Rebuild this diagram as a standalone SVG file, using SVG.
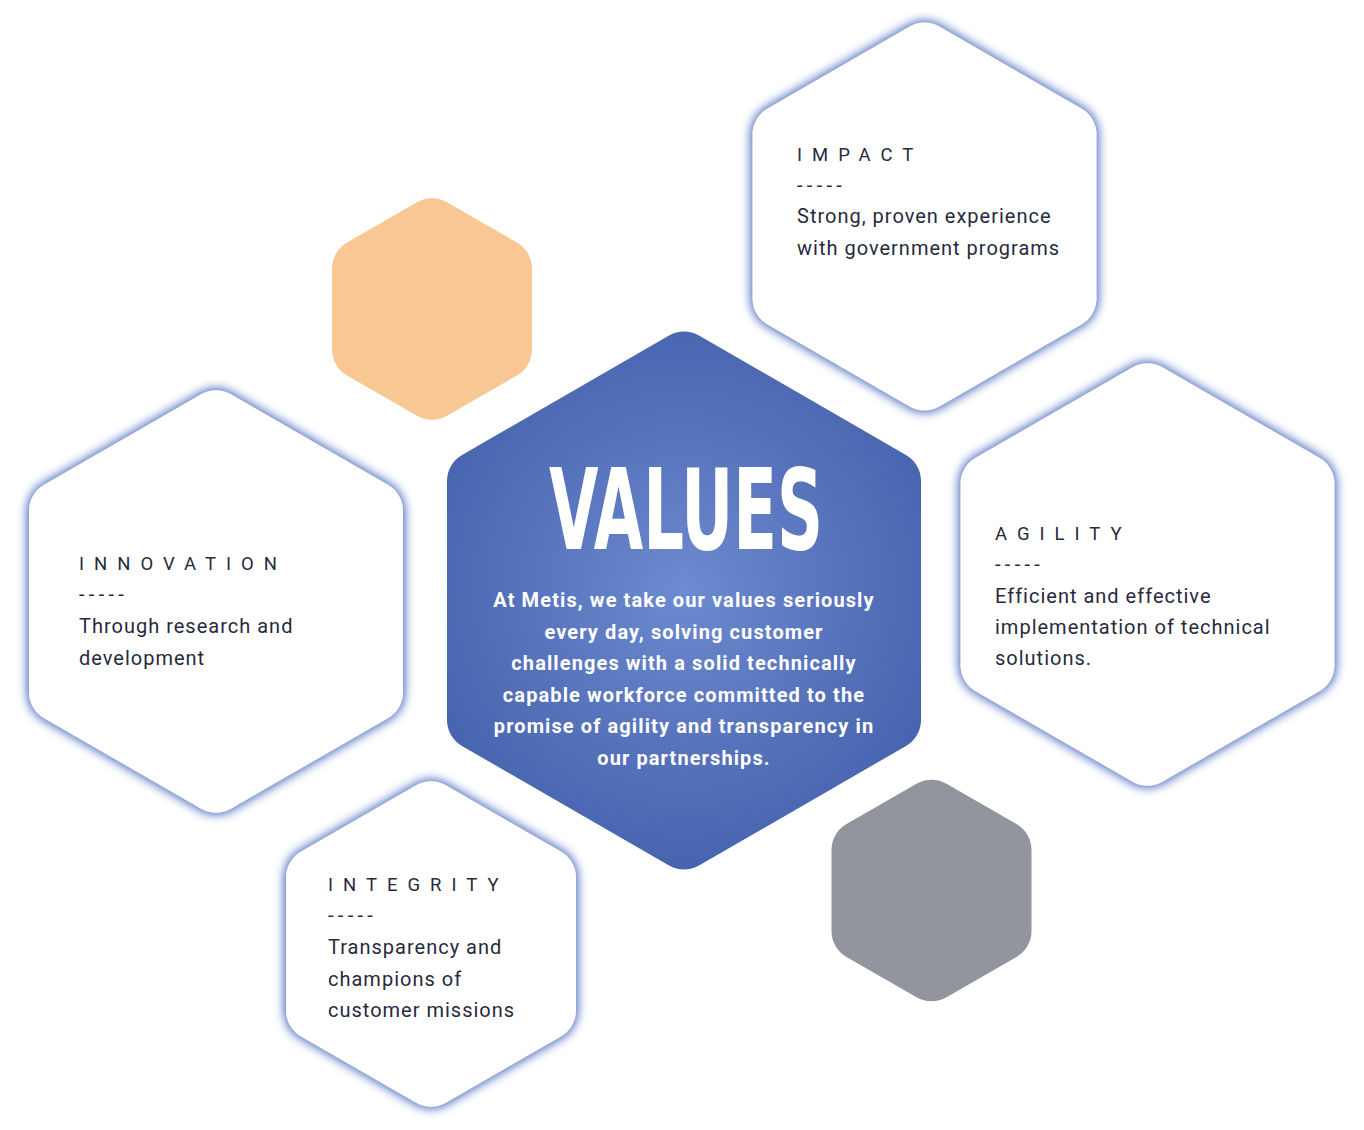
<svg xmlns="http://www.w3.org/2000/svg" width="1364" height="1130" viewBox="0 0 1364 1130">
<style>
.title{font-family:Roboto,"Liberation Sans",sans-serif;font-size:18.5px;fill:#272a3d;letter-spacing:10px}
.dash{font-family:Roboto,"Liberation Sans",sans-serif;font-size:20px;fill:#272a3d;letter-spacing:4.3px}
.body{font-family:Roboto,"Liberation Sans",sans-serif;font-size:20px;fill:#272a3d;letter-spacing:1px}
.ctext{font-family:Roboto,"Liberation Sans",sans-serif;font-size:20px;font-weight:700;fill:#ffffff;text-anchor:middle;letter-spacing:1.1px}
.big{font-family:"Liberation Sans Narrow","DejaVu Sans Condensed","Liberation Sans",sans-serif;font-size:112px;font-weight:700;fill:#ffffff}
.white{fill:#ffffff;filter:url(#glow)}
</style>
<defs>
<filter id="glow" x="-15%" y="-15%" width="130%" height="130%">
<feGaussianBlur in="SourceAlpha" stdDeviation="5.5" result="b"/>
<feFlood flood-color="#6580c8" flood-opacity="1"/>
<feComposite in2="b" operator="in" result="g"/>
<feMerge><feMergeNode in="g"/><feMergeNode in="g"/><feMergeNode in="SourceGraphic"/></feMerge>
</filter>
<radialGradient id="cg" gradientUnits="userSpaceOnUse" cx="0" cy="-10" r="275">
<stop offset="0" stop-color="#6d8bd0"/>
<stop offset="0.6" stop-color="#5672bb"/>
<stop offset="1" stop-color="#4764ae"/>
</radialGradient>
<path id="hSmall" d="M-15,-106.81 A30,30 0 0 1 15,-106.81 L85,-66.40 A30,30 0 0 1 100,-40.42 L100,40.42 A30,30 0 0 1 85,66.40 L15,106.81 A30,30 0 0 1 -15,106.81 L-85,66.40 A30,30 0 0 1 -100,40.42 L-100,-40.42 A30,30 0 0 1 -85,-66.40 Z"/>
<path id="hMid" d="M-15,-207.27 A30,30 0 0 1 15,-207.27 L172,-116.63 A30,30 0 0 1 187,-90.65 L187,90.65 A30,30 0 0 1 172,116.63 L15,207.27 A30,30 0 0 1 -15,207.27 L-172,116.63 A30,30 0 0 1 -187,90.65 L-187,-90.65 A30,30 0 0 1 -172,-116.63 Z"/>
</defs>
<rect width="1364" height="1130" fill="#ffffff"/>

<g id="orange-hex">
<use href="#hSmall" transform="translate(432,309)" fill="#f9c794"/>
</g>
<g id="gray-hex">
<use href="#hSmall" transform="translate(931.5,890.5)" fill="#93959e"/>
</g>

<g id="values">
<path transform="translate(684,600.5)" fill="url(#cg)" d="M-15,-265.01 A30,30 0 0 1 15,-265.01 L222,-145.49 A30,30 0 0 1 237,-119.51 L237,119.51 A30,30 0 0 1 222,145.49 L15,265.01 A30,30 0 0 1 -15,265.01 L-222,145.49 A30,30 0 0 1 -237,119.51 L-237,-119.51 A30,30 0 0 1 -222,-145.49 Z"/>
<text class="big" x="549" y="549" textLength="274" lengthAdjust="spacingAndGlyphs">VALUES</text>
<text class="ctext" x="684" y="607">At Metis, we take our values seriously</text>
<text class="ctext" x="684" y="639">every day, solving customer</text>
<text class="ctext" x="684" y="670">challenges with a solid technically</text>
<text class="ctext" x="684" y="702">capable workforce committed to the</text>
<text class="ctext" x="684" y="733">promise of agility and transparency in</text>
<text class="ctext" x="684" y="765">our partnerships.</text>
</g>

<g id="impact">
<path class="white" transform="translate(924.5,216.5)" d="M-15,-189.95 A30,30 0 0 1 15,-189.95 L157,-107.97 A30,30 0 0 1 172,-81.99 L172,81.99 A30,30 0 0 1 157,107.97 L15,189.95 A30,30 0 0 1 -15,189.95 L-157,107.97 A30,30 0 0 1 -172,81.99 L-172,-81.99 A30,30 0 0 1 -157,-107.97 Z"/>
<text class="title" x="797" y="161">IMPACT</text>
<text class="dash" x="797" y="192">-----</text>
<text class="body" x="797" y="223">Strong, proven experience</text>
<text class="body" x="797" y="255">with government programs</text>
</g>

<g id="innovation">
<use href="#hMid" class="white" transform="translate(216,601.5)"/>
<text class="title" x="79" y="570">INNOVATION</text>
<text class="dash" x="79" y="601">-----</text>
<text class="body" x="79" y="633">Through research and</text>
<text class="body" x="79" y="665">development</text>
</g>

<g id="agility">
<use href="#hMid" class="white" transform="translate(1147.5,574.5)"/>
<text class="title" x="995" y="540">AGILITY</text>
<text class="dash" x="995" y="571">-----</text>
<text class="body" x="995" y="603">Efficient and effective</text>
<text class="body" x="995" y="634">implementation of technical</text>
<text class="body" x="995" y="665">solutions.</text>
</g>

<g id="integrity">
<path class="white" transform="translate(431,944)" d="M-15,-158.77 A30,30 0 0 1 15,-158.77 L130,-92.38 A30,30 0 0 1 145,-66.40 L145,66.40 A30,30 0 0 1 130,92.38 L15,158.77 A30,30 0 0 1 -15,158.77 L-130,92.38 A30,30 0 0 1 -145,66.40 L-145,-66.40 A30,30 0 0 1 -130,-92.38 Z"/>
<text class="title" x="328" y="891">INTEGRITY</text>
<text class="dash" x="328" y="922">-----</text>
<text class="body" x="328" y="954">Transparency and</text>
<text class="body" x="328" y="986">champions of</text>
<text class="body" x="328" y="1017">customer missions</text>
</g>

<g id="connectors"></g>
</svg>
